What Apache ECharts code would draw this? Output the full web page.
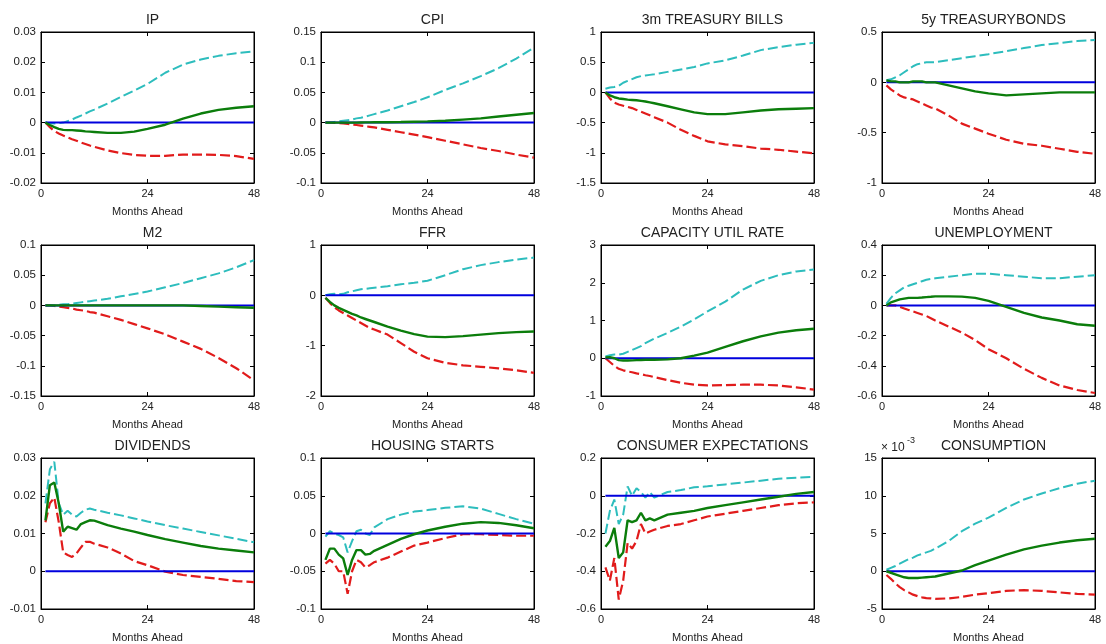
<!DOCTYPE html>
<html>
<head>
<meta charset="utf-8">
<script src="https://cdn.jsdelivr.net/npm/echarts@6/dist/echarts.min.js"></script>
<style>
	html, body { margin: 0; padding: 0; background: #fff; }
	#main_chart { width: 1106px; height: 644px; }
</style>
</head>
<body>
<div id="main_chart"></div>
<script>
var months = [1, 2, 3, 4, 5, 6, 7, 8, 9, 10, 11, 12, 15, 18, 21, 24, 28, 32, 36, 40, 44, 48];

var titles = ["IP", "CPI", "3m TREASURY BILLS", "5y TREASURYBONDS",
	"M2", "FFR", "CAPACITY UTIL RATE", "UNEMPLOYMENT",
	"DIVIDENDS", "HOUSING STARTS", "CONSUMER EXPECTATIONS", "CONSUMPTION"];

var yMin = [-0.02, -0.1, -1.5, -1, -0.15, -2, -1, -0.6, -0.01, -0.1, -0.6, -5];
var yMax = [0.03, 0.15, 1, 0.5, 0.1, 1, 3, 0.4, 0.03, 0.1, 0.2, 15];
var yStep = [0.01, 0.05, 0.5, 0.5, 0.05, 1, 1, 0.2, 0.01, 0.05, 0.2, 5];

var xTicks = { min: 0, max: 48, step: 24 };

// upper band (cyan dashed)
var upper = [
	[0, -0.0002, -0.0003, -0.0002, 0, 0.0005, 0.001, 0.0017, 0.0023, 0.003, 0.0037, 0.0043, 0.0063, 0.0085, 0.0106, 0.0128, 0.0165, 0.0192, 0.0209, 0.0221, 0.023, 0.0236],
	[0, 0, 0.001, 0.002, 0.003, 0.004, 0.005, 0.007, 0.008, 0.01, 0.012, 0.014, 0.02, 0.027, 0.034, 0.042, 0.054, 0.065, 0.077, 0.09, 0.106, 0.124],
	[0.06, 0.08, 0.09, 0.11, 0.16, 0.19, 0.22, 0.25, 0.27, 0.28, 0.29, 0.3, 0.34, 0.38, 0.42, 0.48, 0.53, 0.61, 0.7, 0.75, 0.79, 0.82],
	[0.02, 0.03, 0.05, 0.07, 0.1, 0.13, 0.16, 0.18, 0.19, 0.2, 0.2, 0.2, 0.22, 0.24, 0.26, 0.28, 0.31, 0.34, 0.37, 0.39, 0.41, 0.42],
	[0, 0, 0, 0.001, 0.002, 0.002, 0.003, 0.004, 0.005, 0.006, 0.007, 0.008, 0.011, 0.015, 0.019, 0.023, 0.03, 0.037, 0.045, 0.053, 0.063, 0.075],
	[0, 0.02, 0.03, 0.02, 0.03, 0.06, 0.08, 0.1, 0.12, 0.13, 0.14, 0.15, 0.18, 0.22, 0.25, 0.29, 0.4, 0.52, 0.6, 0.66, 0.71, 0.75],
	[0.05, 0.08, 0.1, 0.1, 0.12, 0.17, 0.22, 0.27, 0.32, 0.4, 0.46, 0.52, 0.67, 0.84, 1.03, 1.24, 1.5, 1.82, 2.05, 2.2, 2.3, 2.35],
	[0.01, 0.05, 0.08, 0.1, 0.12, 0.13, 0.14, 0.15, 0.16, 0.17, 0.175, 0.18, 0.19, 0.2, 0.21, 0.21, 0.2, 0.19, 0.18, 0.18, 0.19, 0.2],
	[0.018, 0.027, 0.029, 0.018, 0.015, 0.016, 0.015, 0.0145, 0.0155, 0.0163, 0.0166, 0.0163, 0.0155, 0.0148, 0.014, 0.0132, 0.0122, 0.0113, 0.0104, 0.0095, 0.0086, 0.0077],
	[-0.004, 0.003, 0, -0.002, -0.005, -0.025, -0.01, 0.003, 0.005, 0, -0.002, 0.008, 0.019, 0.025, 0.029, 0.031, 0.034, 0.036, 0.033, 0.026, 0.019, 0.013],
	[-0.2, -0.08, -0.02, -0.15, -0.1, 0.05, 0, 0.04, 0.02, -0.01, 0.02, -0.01, 0.02, 0.03, 0.045, 0.05, 0.06, 0.07, 0.08, 0.09, 0.095, 0.1],
	[0.2, 0.45, 0.7, 1.0, 1.3, 1.6, 1.8, 2.1, 2.3, 2.5, 2.7, 3.0, 4.0, 5.3, 6.3, 7.1, 8.4, 9.5, 10.3, 11.0, 11.6, 12.0]
];

// median (green solid)
var median = [
	[0, -0.0008, -0.0015, -0.0021, -0.0024, -0.0025, -0.0025, -0.0026, -0.0027, -0.0029, -0.003, -0.0031, -0.0034, -0.0034, -0.003, -0.0021, -0.0007, 0.0013, 0.003, 0.0042, 0.0049, 0.0054],
	[0, 0, 0, 0, 0, 0, 0, 0, 0.0002, 0.0003, 0.0004, 0.0005, 0.0007, 0.001, 0.0015, 0.002, 0.003, 0.005, 0.007, 0.01, 0.013, 0.016],
	[0, -0.05, -0.08, -0.1, -0.11, -0.12, -0.125, -0.13, -0.14, -0.15, -0.165, -0.18, -0.23, -0.28, -0.33, -0.36, -0.36, -0.33, -0.3, -0.28, -0.27, -0.26],
	[0.02, 0.01, 0.01, 0, 0, 0, 0.01, 0.01, 0.01, 0, 0, 0, -0.03, -0.06, -0.09, -0.11, -0.13, -0.12, -0.11, -0.1, -0.1, -0.1],
	[0, 0, 0, 0, 0, 0, 0, 0, 0, 0, 0, 0, 0, 0, 0, 0, 0, 0, -0.001, -0.002, -0.003, -0.004],
	[-0.05, -0.13, -0.2, -0.25, -0.29, -0.33, -0.37, -0.4, -0.44, -0.47, -0.5, -0.53, -0.62, -0.7, -0.77, -0.82, -0.83, -0.81, -0.78, -0.75, -0.73, -0.72],
	[0.02, 0.03, 0, -0.05, -0.06, -0.06, -0.055, -0.05, -0.045, -0.04, -0.04, -0.04, -0.03, 0, 0.07, 0.15, 0.3, 0.45, 0.58, 0.68, 0.74, 0.78],
	[0, 0.02, 0.03, 0.04, 0.045, 0.05, 0.05, 0.05, 0.052, 0.055, 0.057, 0.06, 0.06, 0.058, 0.05, 0.03, -0.01, -0.05, -0.08, -0.1, -0.125, -0.135],
	[0.0135, 0.0228, 0.0235, 0.018, 0.0105, 0.0118, 0.0114, 0.011, 0.0125, 0.013, 0.0135, 0.0134, 0.0122, 0.0113, 0.0105, 0.0096, 0.0085, 0.0076, 0.0067, 0.006, 0.0055, 0.005],
	[-0.035, -0.02, -0.02, -0.028, -0.033, -0.055, -0.035, -0.022, -0.022, -0.028, -0.027, -0.023, -0.015, -0.007, -0.001, 0.004, 0.009, 0.013, 0.015, 0.014, 0.011, 0.007],
	[-0.27, -0.24, -0.17, -0.33, -0.3, -0.13, -0.14, -0.13, -0.09, -0.13, -0.12, -0.13, -0.1, -0.09, -0.08, -0.065, -0.05, -0.035, -0.02, -0.005, 0.01, 0.02],
	[0, -0.2, -0.4, -0.6, -0.8, -0.9, -0.9, -0.9, -0.85, -0.8, -0.75, -0.7, -0.3, 0.1, 0.8, 1.4, 2.2, 2.9, 3.4, 3.8, 4.1, 4.3]
];

// lower band (red dashed)
var lower = [
	[0, -0.0015, -0.0028, -0.0036, -0.0043, -0.0049, -0.0055, -0.006, -0.0066, -0.0071, -0.0076, -0.008, -0.0092, -0.0101, -0.0107, -0.011, -0.011, -0.0106, -0.0106, -0.0107, -0.0111, -0.012],
	[0, 0, -0.0005, -0.001, -0.0015, -0.002, -0.003, -0.004, -0.005, -0.006, -0.007, -0.008, -0.012, -0.016, -0.02, -0.024, -0.03, -0.036, -0.042, -0.047, -0.053, -0.058],
	[0, -0.1, -0.17, -0.2, -0.22, -0.24, -0.26, -0.29, -0.32, -0.35, -0.38, -0.41, -0.5, -0.62, -0.72, -0.81, -0.86, -0.89, -0.93, -0.95, -0.98, -1.01],
	[-0.03, -0.07, -0.1, -0.13, -0.15, -0.16, -0.17, -0.19, -0.21, -0.23, -0.25, -0.26, -0.33, -0.41, -0.46, -0.51, -0.57, -0.61, -0.63, -0.66, -0.69, -0.71],
	[0, 0, -0.001, -0.002, -0.003, -0.004, -0.005, -0.007, -0.008, -0.009, -0.011, -0.012, -0.018, -0.024, -0.031, -0.038, -0.048, -0.06, -0.072, -0.087, -0.104, -0.124],
	[-0.05, -0.15, -0.24, -0.3, -0.35, -0.4, -0.45, -0.5, -0.55, -0.6, -0.65, -0.68, -0.78, -0.95, -1.12, -1.25, -1.34, -1.39, -1.42, -1.45, -1.49, -1.54],
	[0, -0.1, -0.2, -0.28, -0.32, -0.35, -0.37, -0.4, -0.42, -0.45, -0.47, -0.5, -0.58, -0.65, -0.7, -0.72, -0.71, -0.7, -0.7, -0.72, -0.77, -0.83],
	[0, 0, 0, -0.01, -0.02, -0.03, -0.04, -0.05, -0.06, -0.07, -0.085, -0.1, -0.14, -0.18, -0.23, -0.29, -0.35, -0.42, -0.48, -0.53, -0.56, -0.58],
	[0.013, 0.018, 0.0195, 0.013, 0.005, 0.0043, 0.0038, 0.0047, 0.0063, 0.0078, 0.0078, 0.0073, 0.0063, 0.0047, 0.0027, 0.0016, -0.0001, -0.001, -0.0015, -0.002, -0.0026, -0.0029],
	[-0.04, -0.035, -0.04, -0.05, -0.05, -0.08, -0.05, -0.035, -0.038, -0.045, -0.042, -0.038, -0.032, -0.024, -0.016, -0.012, -0.006, -0.001, -0.001, -0.002, -0.003, -0.003],
	[-0.38, -0.45, -0.33, -0.55, -0.45, -0.25, -0.28, -0.24, -0.15, -0.2, -0.19, -0.18, -0.16, -0.15, -0.13, -0.11, -0.095, -0.08, -0.065, -0.05, -0.04, -0.035],
	[-0.5, -1.0, -1.6, -2.1, -2.5, -2.8, -3.1, -3.3, -3.45, -3.55, -3.6, -3.65, -3.6, -3.4, -3.1, -2.9, -2.6, -2.5, -2.6, -2.8, -3.0, -3.1]
];

var colLeft = [41, 321, 601, 882];
var rowTop = [32, 245, 458];
var plotW = 213;
var plotH = 151;

function pairs(vals) {
	var out = [];
	for (var k = 0; k < months.length; k++) {
		out.push([months[k], vals[k]]);
	}
	return out;
}

function makeChart() {
	var chart_do = document.getElementById('main_chart');
	var chart = echarts.init(chart_do, null, { renderer: 'canvas' });

	var grids = [], xAxes = [], yAxes = [], series = [], titleArr = [];
	var font = 'Liberation Sans, Arial, sans-serif';
	var tickStyle = { show: true, inside: true, length: 4, lineStyle: { color: '#000', width: 1 } };
	var lineStyle = { show: true, onZero: false, lineStyle: { color: '#000', width: 1 } };

	for (var i = 0; i < 12; i++) {
		var c = i % 4, r = Math.floor(i / 4);
		grids.push({ left: colLeft[c], top: rowTop[r], width: plotW, height: plotH, show: true, borderColor: '#000', borderWidth: 1 });

		titleArr.push({
			text: titles[i],
			left: colLeft[c] + plotW / 2,
			top: rowTop[r] - 24,
			textAlign: 'center',
			textStyle: { fontFamily: font, fontSize: 14, fontWeight: 'normal', color: '#222' }
		});

		xAxes.push({
			gridIndex: i, type: 'value', min: xTicks.min, max: xTicks.max, interval: xTicks.step,
			axisLine: lineStyle, axisTick: tickStyle, splitLine: { show: false },
			axisLabel: { fontFamily: font, fontSize: 11, color: '#222', margin: 5 },
			name: 'Months Ahead', nameLocation: 'middle', nameGap: 23,
			nameTextStyle: { fontFamily: font, fontSize: 11, color: '#222' }
		});
		xAxes.push({
			gridIndex: i, type: 'value', position: 'top', min: xTicks.min, max: xTicks.max, interval: xTicks.step,
			axisLine: lineStyle, axisTick: tickStyle, axisLabel: { show: false }, splitLine: { show: false }
		});
		yAxes.push({
			gridIndex: i, type: 'value', min: yMin[i], max: yMax[i], interval: yStep[i],
			axisLine: lineStyle, axisTick: tickStyle, splitLine: { show: false },
			axisLabel: { fontFamily: font, fontSize: 11.5, color: '#222', margin: 5 }
		});
		yAxes.push({
			gridIndex: i, type: 'value', position: 'right', min: yMin[i], max: yMax[i], interval: yStep[i],
			axisLine: lineStyle, axisTick: tickStyle, axisLabel: { show: false }, splitLine: { show: false }
		});

		var xi = i * 2, yi = i * 2;
		series.push({
			type: 'line', xAxisIndex: xi, yAxisIndex: yi, data: pairs(lower[i]), showSymbol: false, silent: true,
			lineStyle: { color: '#e11b1b', width: 2.2, type: [10, 4] }
		});
		series.push({
			type: 'line', xAxisIndex: xi, yAxisIndex: yi, data: pairs(upper[i]), showSymbol: false, silent: true,
			lineStyle: { color: '#2dbdbd', width: 2, type: [10, 4] }
		});
		series.push({
			type: 'line', xAxisIndex: xi, yAxisIndex: yi, data: pairs(months.map(function() { return 0; })), showSymbol: false, silent: true,
			lineStyle: { color: '#0000dd', width: 2 }
		});
		series.push({
			type: 'line', xAxisIndex: xi, yAxisIndex: yi, data: pairs(median[i]), showSymbol: false, silent: true,
			lineStyle: { color: '#0b7d0b', width: 2.4 }
		});
	}

	var option = {
		animation: false,
		backgroundColor: '#fff',
		title: titleArr,
		grid: grids,
		xAxis: xAxes,
		yAxis: yAxes,
		series: series,
		graphic: [
			{ type: 'text', left: 881, top: 442, style: { text: '\u00d7 10', fontFamily: font, fontSize: 12, fill: '#222' } },
			{ type: 'text', left: 907, top: 436, style: { text: '-3', fontFamily: font, fontSize: 9, fill: '#222' } }
		]
	};

	chart.setOption(option);
}

makeChart();
</script>
</body>
</html>
